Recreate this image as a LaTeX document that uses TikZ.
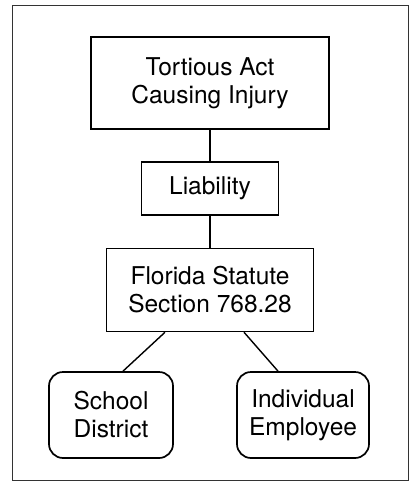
\documentclass[tikz,border=0pt]{standalone}
\usepackage{fontspec}
\setmainfont{TeX Gyre Heros}
\usetikzlibrary{positioning}

\tikzset{
  box/.style={draw, line width=1.7pt, align=center, inner sep=0pt,
    font=\fontsize{24.5}{28}\selectfont},
  leaf/.style={box, rounded corners=14pt},
  link/.style={line width=1.4pt}
}

\begin{document}
\begin{tikzpicture}[x=1pt,y=-1pt]

  \useasboundingbox (0,0) rectangle (409,484);
  \draw[line width=0.9pt, black!80] (12,5) rectangle (408,480);

  \node[box, minimum width=238pt, minimum height=92pt] (act) at (210,83)
    {Tortious Act\\Causing Injury};
  \node[box, minimum width=137pt, minimum height=53pt, below=31pt of act] (liab)
    {Liability};
  \node[box, minimum width=207pt, minimum height=83pt, below=32pt of liab] (stat)
    {Florida Statute\\Section 768.28};

  \node[leaf, minimum width=124pt, minimum height=86pt] (school) at (111,415)
    {School\\District};
  \node[leaf, minimum width=132pt, minimum height=86pt] (emp) at (303,415)
    {Individual\\Employee};

  \draw[link] (act) -- (liab);
  \draw[link] (liab) -- (stat);
  \draw[link] ([xshift=-45pt]stat.south) -- ([xshift=12pt]school.north);
  \draw[link] ([xshift=34pt]stat.south) -- ([xshift=-25pt]emp.north);

\end{tikzpicture}
\end{document}
